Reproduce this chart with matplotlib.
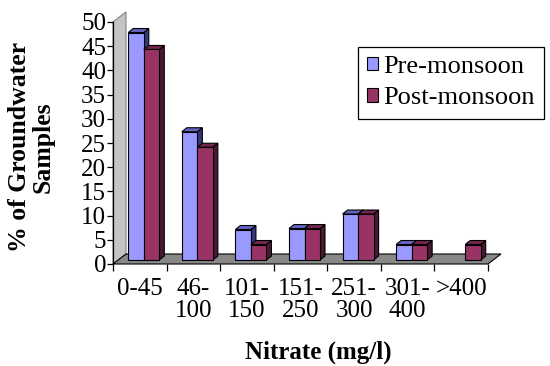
import matplotlib
matplotlib.use("Agg")
import matplotlib.pyplot as plt
from matplotlib.patches import Polygon, Patch

# nitrate classes and % of samples in each
categories = ["0-45", "46-\n100", "101-\n150", "151-\n250", "251-\n300", "301-\n400", ">400"]
pre_monsoon = [47, 26.5, 6.3, 6.5, 9.5, 3.2, 0]
post_monsoon = [43.5, 23.3, 3.2, 6.5, 9.5, 3.2, 3.2]

series_names = ["Pre-monsoon", "Post-monsoon"]
# front, top, side colours for each series
pre_colors = ("#9999ff", "#6464c0", "#36367e")
post_colors = ("#993366", "#74264c", "#4a1830")

plt.rcParams["font.family"] = ["Liberation Serif", "DejaVu Serif"]

W, H = 550, 366
fig = plt.figure(figsize=(5.5, 3.66), dpi=100)
x0_px, x1_px, y0_px, y1_px = 113, 488, 264, 22
ax = fig.add_axes([x0_px / W, 1 - y0_px / H, (x1_px - x0_px) / W, (y0_px - y1_px) / H])

n = len(categories)
ymax = 50
ax.set_xlim(0, n)
ax.set_ylim(0, ymax)

# pixel -> data conversion for the fake 3d depth
sx = n / (x1_px - x0_px)
sy = ymax / (y0_px - y1_px)

floor_dx, floor_dy = 13 * sx, 10 * sy
bar_ox, bar_oy = 4 * sx, 4 * sy
bar_dx, bar_dy = 5 * sx, 4 * sy
bar_w = 15.5 * sx

# side wall and floor
wall = Polygon([(0, 0), (floor_dx, floor_dy), (floor_dx, ymax + floor_dy), (0, ymax)],
               closed=True, facecolor="#c4c4c4", edgecolor="#808080", lw=0.8, clip_on=False, zorder=1)
floor = Polygon([(0, 0), (n, 0), (n + floor_dx, floor_dy), (floor_dx, floor_dy)],
                closed=True, facecolor="#888888", edgecolor="black", lw=0.8, clip_on=False, zorder=1)
ax.add_patch(wall)
ax.add_patch(floor)


def draw_bar(left, value, colors):
    if value <= 0:
        return
    front, top, side = colors
    b = bar_oy
    l = left + bar_ox
    r = l + bar_w
    t = b + value
    kw = dict(closed=True, edgecolor="black", lw=0.8, clip_on=False, zorder=3)
    ax.add_patch(Polygon([(r, b), (r + bar_dx, b + bar_dy), (r + bar_dx, t + bar_dy), (r, t)], facecolor=side, **kw))
    ax.add_patch(Polygon([(l, t), (r, t), (r + bar_dx, t + bar_dy), (l + bar_dx, t + bar_dy)], facecolor=top, **kw))
    ax.add_patch(Polygon([(l, b), (r, b), (r, t), (l, t)], facecolor=front, **kw))


for i in range(n):
    c = i + 0.5
    draw_bar(c - bar_w, pre_monsoon[i], pre_colors)
    draw_bar(c, post_monsoon[i], post_colors)

# axes, ticks
for s in ["top", "right", "bottom"]:
    ax.spines[s].set_visible(False)
ax.spines["left"].set_linewidth(0.9)
ax.set_yticks(range(0, ymax + 1, 5))
ax.tick_params(axis="y", length=4, width=0.9, pad=1, labelsize=18)
ax.set_xticks(range(n + 1))
ax.set_xticklabels([])
ax.set_xticks([i + 0.5 for i in range(n)], minor=True)
ax.set_xticklabels(categories, minor=True, fontsize=18, linespacing=1.0)
ax.tick_params(axis="x", which="major", length=5, width=0.9, direction="out")
ax.tick_params(axis="x", which="minor", length=0, pad=10)
ax.patch.set_visible(False)

fig.text(318 / W, 1 - 352 / H, "Nitrate (mg/l)", fontsize=18, fontweight="bold",
         ha="center", va="center")
fig.text(31 / W, 1 - 147 / H, "% of Groundwater\nSamples", fontsize=18.5, fontweight="bold",
         rotation=90, ha="center", va="center", multialignment="center", linespacing=1.05)

handles = [Patch(facecolor=pre_colors[0], edgecolor="black", lw=0.8),
           Patch(facecolor=post_colors[0], edgecolor="black", lw=0.8)]
leg = ax.legend(handles, series_names, loc="upper left", bbox_to_anchor=(358 / W, 1 - 47 / H),
                bbox_transform=fig.transFigure, fontsize=19, fancybox=False, framealpha=1,
                edgecolor="black", handlelength=0.4, handleheight=0.4, handletextpad=0.2,
                labelspacing=0.35, borderpad=0.35, borderaxespad=0)
leg.get_frame().set_linewidth(0.9)

fig.savefig("out.png", dpi=100)
